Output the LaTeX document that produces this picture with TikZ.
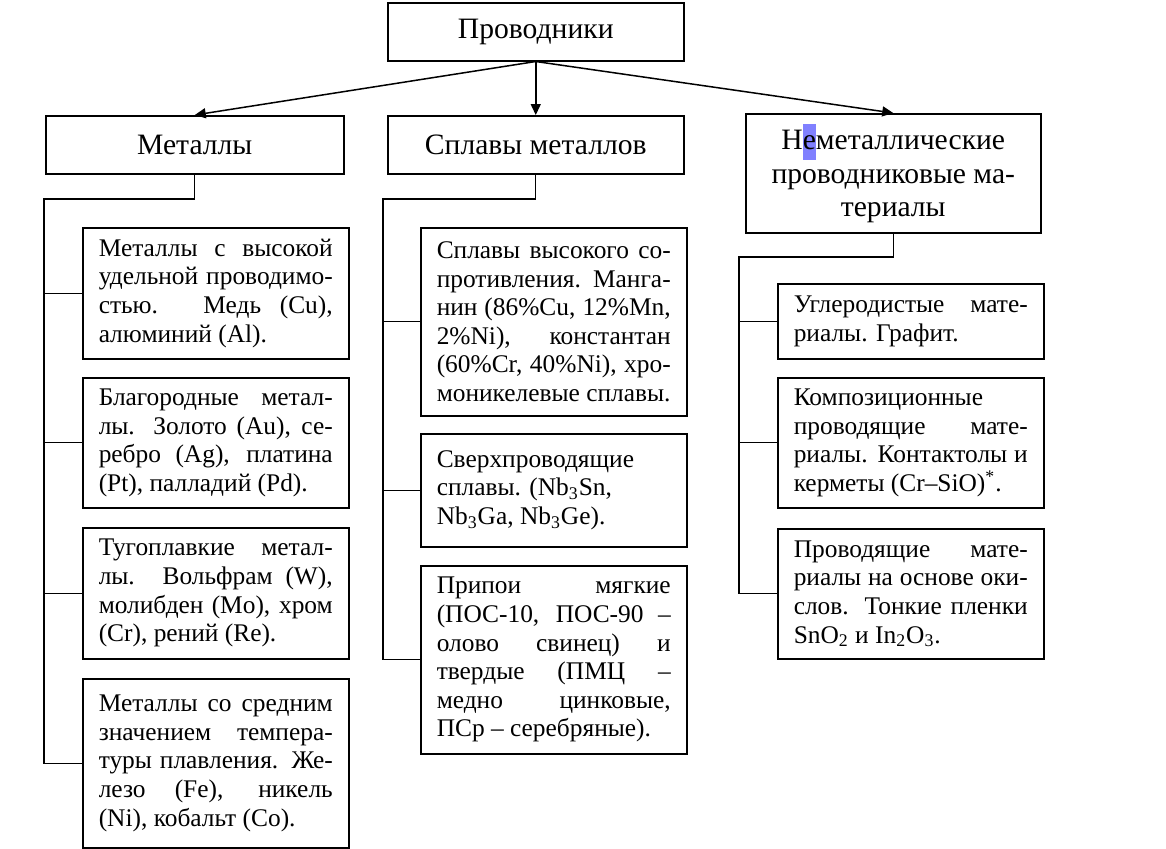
\documentclass[tikz,border=0pt]{standalone}
\usepackage{fontspec}
\setmainfont{Liberation Serif}
\usetikzlibrary{arrows.meta}

\definecolor{selblue}{RGB}{128,128,255}

\tikzset{
    headbox/.style={draw, line width=0.75pt, anchor=north west, inner sep=0pt,
        align=center, font=\fontsize{14.8}{16.7}\selectfont},
    itembox/.style={draw, line width=0.75pt, anchor=north west, inner xsep=8pt,
        inner ysep=0pt, text width=117pt, align=justify,
        font=\fontsize{12.7}{14.3}\selectfont},
    link/.style={line width=0.55pt},
    arrowline/.style={line width=0.75pt, -{Triangle[length=5.5pt,width=5pt]}}
}

\newcommand{\selmark}[1]{{\setlength{\fboxsep}{0pt}\colorbox{selblue}{\rule[-5pt]{0pt}{18pt}#1}}}

\begin{document}
\begin{tikzpicture}[x=0.5pt, y=-0.5pt]
    \useasboundingbox (0,0) rectangle (1166,848);

    % top level
    \node[headbox, minimum width=148pt, minimum height=29pt] (cond) at (387,2) {Проводники};

    \node[headbox, minimum width=149pt, minimum height=29pt] (met) at (45,115) {Металлы};
    \node[headbox, minimum width=148pt, minimum height=29pt] (alloy) at (387,115) {Сплавы металлов};
    \node[headbox, minimum width=147.5pt, minimum height=59.5pt] (nonmet) at (745,113)
        {Н\selmark{е}металлические\\проводниковые ма-\\териалы};

    \draw[arrowline] (cond.south) -- (met.north);
    \draw[arrowline] (cond.south) -- (alloy.north);
    \draw[arrowline] (cond.south) -- (nonmet.north);

    % metals
    \node[itembox, minimum height=65.5pt] (m1) at (82,227)
        {Металлы с высокой\linebreak удельной проводимо-\linebreak стью. Медь (Cu),\linebreak алюминий (Al).};
    \node[itembox, minimum height=65pt] (m2) at (82,377)
        {Благородные метал-\linebreak лы. Золото (Au), се-\linebreak ребро (Ag), платина\linebreak (Pt), палладий (Pd).};
    \node[itembox, minimum height=65.5pt] (m3) at (82,527)
        {Тугоплавкие метал-\linebreak лы. Вольфрам (W),\linebreak молибден (Mo), хром\linebreak (Cr), рений (Re).};
    \node[itembox, minimum height=84.5pt] (m4) at (82,678)
        {Металлы со средним\linebreak значением темпера-\linebreak туры плавления. Же-\linebreak лезо (Fe), никель\linebreak (Ni), кобальт (Co).};

    \coordinate (mtrunk) at (44,199);
    \draw[link] (met.south) |- (mtrunk) |- (m4.west);
    \draw[link] (m1.west -| mtrunk) -- (m1.west);
    \draw[link] (m2.west -| mtrunk) -- (m2.west);
    \draw[link] (m3.west -| mtrunk) -- (m3.west);

    % alloys
    \node[itembox, minimum height=94pt] (a1) at (420,227)
        {Сплавы высокого со-\linebreak противления. Манга-\linebreak нин (86\%Cu, 12\%Mn,\linebreak 2\%Ni), константан\linebreak (60\%Cr, 40\%Ni), хро-\linebreak моникелевые сплавы.};
    \node[itembox, minimum height=56.5pt] (a2) at (420,433)
        {Сверхпроводящие\\ сплавы. (Nb\textsubscript{3}Sn,\\ Nb\textsubscript{3}Ga, Nb\textsubscript{3}Ge).};
    \node[itembox, minimum height=94pt] (a3) at (420,565)
        {Припои мягкие\linebreak (ПОС-10, ПОС-90 –\linebreak олово свинец) и\linebreak твердые (ПМЦ –\linebreak медно цинковые,\linebreak ПСр – серебряные).};

    \coordinate (atrunk) at (383,199);
    \draw[link] (alloy.south) |- (atrunk) |- (a3.west);
    \draw[link] (a1.west -| atrunk) -- (a1.west);
    \draw[link] (a2.west -| atrunk) -- (a2.west);

    % non-metallic
    \node[itembox, minimum height=37.5pt] (n1) at (777,283)
        {Углеродистые мате-\linebreak риалы. Графит.};
    \node[itembox, minimum height=65pt] (n2) at (777,377)
        {Композиционные\\ проводящие мате-\linebreak риалы. Контактолы и\linebreak керметы (Cr–SiO)\textsuperscript{*}.};
    \node[itembox, minimum height=65pt] (n3) at (777,528)
        {Проводящие мате-\linebreak риалы на основе оки-\linebreak слов. Тонкие пленки\linebreak SnO\textsubscript{2} и In\textsubscript{2}O\textsubscript{3}.};

    \coordinate (ntrunk) at (739,257);
    \draw[link] (nonmet.south) |- (ntrunk) |- (n3.west);
    \draw[link] (n1.west -| ntrunk) -- (n1.west);
    \draw[link] (n2.west -| ntrunk) -- (n2.west);
\end{tikzpicture}
\end{document}
